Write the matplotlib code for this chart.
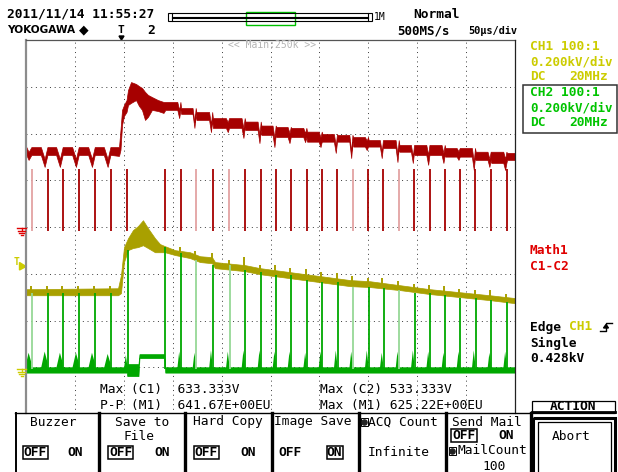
import numpy as np
import matplotlib
matplotlib.use("Agg")
import matplotlib.pyplot as plt
from matplotlib.patches import Rectangle, Polygon, Circle

plt.rcParams['lines.scale_dashes'] = False
MONO = 'DejaVu Sans Mono'

# ---- values: time in us (50 us/div), voltage in V (0.2 kV/div)
pulse_t = [5.8, 22.2, 37.8, 54.2, 70.6, 86.6, 103.6, 142.1, 158.2, 173.8,
           190.7, 207.9, 223.9, 240.3, 255.6, 271.0, 287.0, 302.7, 318.3, 334.1,
           350.0, 365.3, 381.4, 397.1, 412.8, 428.4, 443.8, 459.4, 475.4, 491.5]
pale_pulses = [0, 9, 11, 19, 22]

# CH1 (yellow) band, plus the small overshoot seen at each pulse
ch1_t = [0, 94.1, 97.1, 100.2, 104.3, 109.4, 114.5, 119.6, 124.7, 131.9, 137.0, 142.1,
         152.4, 167.7, 177.9, 190.2, 193.3, 223.9, 239.3, 269.9, 300.6, 331.3, 351.7,
         382.4, 413.1, 443.8, 474.4, 500]
ch1_top = [342, 346, 402, 522, 560, 595, 612, 637, 603, 560, 535, 526, 509, 500, 483,
           479, 458, 445, 432, 415, 398, 381, 376, 359, 342, 329, 316, 304]
ch1_bot = [316, 316, 325, 458, 509, 518, 522, 530, 518, 500, 500, 500, 488, 475, 458,
           453, 432, 419, 406, 389, 372, 355, 351, 338, 321, 308, 295, 282]
ch1_spike = [12, 12, 12, 12, 12, 12, 0, 0, 15, 15, 21, 17, 34, 13, 21, 17, 21, 17,
             21, 17, 13, 21, 17, 13, 17, 21, 13, 17, 21, 13]

# CH2 (green): floor band, ringing bump before each pulse, pulse height
ch2_floor_t = [0, 103.0, 103.6, 115.0, 116.0, 141.4, 142.4, 500]
ch2_floor_top = [8, 8, 22, 22, 64, 64, 8, 8]
ch2_floor_bot = [-15, -15, -30, -30, 47, 47, -15, -15]
ch2_ring = [70, 75, 70, 70, 70, 65, 60, 0, 75, 70, 80, 75, 80, 80, 75, 75, 70, 75,
            80, 75, 80, 70, 75, 80, 75, 70, 75, 80, 70, 75]
ch2_high = [325, 325, 325, 325, 325, 325, 509, 522, 496, 466, 445, 445, 423, 415, 402,
            402, 381, 372, 372, 351, 351, 346, 338, 325, 325, 316, 304, 304, 295, 287]

# Math1 = C1-C2 (red): band per segment between pulses, droop before each pulse
m1_seg_top = [346, 346, 346, 346, 346, 346, None, None, 539, 513, 496, 470, 470, 455,
              438, 432, 428, 412, 402, 398, 389, 376, 376, 355, 355, 355, 342, 342,
              326, 326, 321]
m1_seg_bot = [312, 312, 312, 312, 312, 312, None, None, 505, 488, 462, 428, 428, 419,
              398, 389, 389, 369, 369, 369, 348, 348, 342, 326, 312, 312, 305, 305,
              291, 278, 291]
m1_droop = [291, 261, 261, 261, 261, 261, None, None, 470, 428, 410, 410, 385, 363,
            346, 363, 367, 346, 321, 299, 333, 299, 282, 278, 270, 278, 291, 248, 261, 248]
m1_step_t = [87.4, 95.1, 96.6, 98.2, 100.2, 102.8, 104.3, 107.4, 112.5, 115.5, 118.6,
             121.7, 124.7, 128.8, 135.0, 140.6]
m1_step_top = [346, 346, 419, 505, 526, 547, 590, 624, 616, 607, 599, 582, 569, 560, 547, 539]
m1_step_bot = [312, 308, 334, 441, 479, 496, 526, 535, 547, 522, 505, 462, 475, 505, 500, 492]
m1_dip_low = -12

CH_OFF = 0.96    # CH1/CH2 ground, divisions from bottom
M1_OFF = 3.98    # Math1 ground
VDIV = 200.0

RED, RED_PALE = '#A60000', '#E3A3A3'
YEL = '#A9A000'
GRN, GRN_PALE = '#00A800', '#96D896'
TXT_Y, TXT_G, TXT_R = '#CCCC00', '#00C400', '#E00000'


def ch(v):
    return CH_OFF + np.asarray(v, dtype=float) / VDIV


def m1(v):
    return M1_OFF + np.asarray(v, dtype=float) / VDIV


fig = plt.figure(figsize=(6.18, 4.72), dpi=100)
ax = fig.add_axes([26 / 618, 58 / 472, 489 / 618, 374 / 472])
ax.set_xlim(0, 500)
ax.set_ylim(0, 8)
ax.axis('off')
ax.set_zorder(1)

bg = fig.add_axes([0, 0, 1, 1])
bg.set_xlim(0, 618)
bg.set_ylim(472, 0)
bg.axis('off')
bg.patch.set_alpha(0)
bg.set_zorder(2)

# dotted graticule
dots = (0, (0.72, 2.66))
for k in range(1, 10):
    ax.axvline(k * 50, color='#444444', lw=0.72, ls=dots, zorder=1)
for k in range(1, 8):
    ax.axhline(k, color='#444444', lw=0.72, ls=dots, zorder=1)

# ---- Math1 trace
edges = [0.0] + pulse_t + [500.0]
mt, mhi, mlo = list(m1_step_t), list(m1_step_top), list(m1_step_bot)
for i in range(len(edges) - 1):
    if m1_seg_top[i] is None:
        continue
    a, b = edges[i], edges[i + 1]
    top, bot = m1_seg_top[i], m1_seg_bot[i]
    w = 7.0 if b < 100 else 3.5
    mt += [a + 0.4, b - w]
    mhi += [top, top]
    mlo += [bot, bot]
    if i < len(pulse_t):
        d = m1_droop[i]
        mt += [b - 0.45 * w, b - 0.3]
        mhi += [min(top, d + (top - bot)), top]
        mlo += [d, bot]
    else:
        mt.append(b)
        mhi.append(top)
        mlo.append(bot)
order = np.argsort(mt)
mt, mhi, mlo = np.array(mt)[order], np.array(mhi)[order], np.array(mlo)[order]

for i, p in enumerate(pulse_t):
    c = RED_PALE if i in pale_pulses else RED
    ax.vlines(p, m1(m1_dip_low), m1(250), colors=c, lw=1.3, zorder=2)
ax.fill_between(mt, m1(mlo), m1(mhi), color=RED, lw=0.5, zorder=3)

# ---- CH1 trace
ax.fill_between(ch1_t, ch(ch1_bot), ch(ch1_top), color=YEL, lw=0.5, zorder=3)
top_at_pulse = np.interp(pulse_t, ch1_t, ch1_top)
for i, p in enumerate(pulse_t):
    if ch1_spike[i] > 0:
        ax.vlines(p - 0.8, ch(top_at_pulse[i] - 5), ch(top_at_pulse[i] + ch1_spike[i]),
                  colors=YEL, lw=1.4, zorder=3)

# ---- CH2 trace
ax.fill_between(ch2_floor_t, ch(ch2_floor_bot), ch(ch2_floor_top), color=GRN, lw=0.5, zorder=4)
for i, p in enumerate(pulse_t):
    h = ch2_ring[i]
    if h > 0:
        w = 7.0 if p < 100 else 3.5
        ax.add_patch(Polygon([(p - w, ch(0)), (p - 0.45 * w, ch(h)), (p - 0.3, ch(h * 0.4)),
                              (p - 0.3, ch(0))], closed=True, color=GRN, lw=0, zorder=4))
    c = GRN_PALE if i in pale_pulses else GRN
    ax.vlines(p + 0.4, ch(0), ch(ch2_high[i]), colors=c, lw=1.3, zorder=4)

# ---- screen frame
bg.plot([26, 26], [40, 413], color='#8c8c8c', lw=1.6)
bg.plot([26, 515], [40, 40], color='#555555', lw=0.9)
bg.plot([515, 515], [40, 413], color='#222222', lw=0.9)


def txt(x, y, s, color='black', size=9.3, weight='normal', ha='left', family=MONO):
    bg.text(x, y, s, color=color, fontsize=size, fontweight=weight, ha=ha,
            va='center', family=family)


# header
txt(7, 14, '2011/11/14 11:55:27', weight='bold')
txt(7, 30, 'YOKOGAWA', weight='bold', size=7.6, family='DejaVu Sans')
txt(79, 30, '\u25c6', size=9, family='DejaVu Sans')
txt(117, 30, 'T', weight='bold', size=8)
bg.add_patch(Polygon([(119, 36), (124, 36), (121.5, 40)], closed=True, color='black'))
txt(147, 30, '2', weight='bold')
bg.add_patch(Rectangle((168, 13), 4, 8, fill=False, ec='black', lw=0.8))
bg.add_patch(Rectangle((368, 13), 4, 8, fill=False, ec='black', lw=0.8))
for yy in (13.3, 16.5, 18.3, 20.7):
    bg.plot([172, 368], [yy, yy], color='black', lw=0.8)
bg.add_patch(Rectangle((245.5, 11.5), 49, 13.5, fill=False, ec='#00C000', lw=1.0))
txt(374, 17, '1M', size=7)
txt(413, 15, 'Normal', weight='bold')
txt(397, 31, '500MS/s', weight='bold', size=9)
txt(468, 31, '50\u00b5s/div', weight='bold', size=7.4)
txt(228, 45, '<< Main:250k >>', color='#b4b4b4', size=7)

# channel panel
txt(530, 46, 'CH1 100:1', color=TXT_Y, weight='bold')
txt(530, 62, '0.200kV/div', color=TXT_Y, weight='bold', size=9)
txt(530, 77, 'DC', color=TXT_Y, weight='bold')
txt(569, 77, '20MHz', color=TXT_Y, weight='bold')
bg.add_patch(Rectangle((522.5, 84.5), 94, 48, fill=False, ec='#333333', lw=1.1))
txt(530, 93, 'CH2 100:1', color=TXT_G, weight='bold')
txt(530, 108, '0.200kV/div', color=TXT_G, weight='bold', size=9)
txt(530, 123, 'DC', color=TXT_G, weight='bold')
txt(569, 123, '20MHz', color=TXT_G, weight='bold')
txt(530, 250, 'Math1', color=TXT_R, weight='bold')
txt(530, 266, 'C1-C2', color=TXT_R, weight='bold')
txt(530, 327, 'Edge', weight='bold')
txt(569, 327, 'CH1', color=TXT_Y, weight='bold')
bg.plot([600, 606, 606, 612], [331, 331, 323, 323], color='black', lw=1.0)
bg.add_patch(Polygon([(603.5, 328), (608.5, 328), (606, 324.5)], closed=True, color='black'))
txt(530, 343, 'Single', weight='bold')
txt(530, 358, '0.428kV', weight='bold')


# ground and trigger markers at the left edge
def ground(y0, color):
    bg.plot([17, 26], [y0, y0], color=color, lw=1.0)
    bg.plot([21.5, 21.5], [y0, y0 + 2.5], color=color, lw=1.0)
    bg.plot([17.5, 25], [y0 + 2.8, y0 + 2.8], color=color, lw=1.0)
    bg.plot([19, 24], [y0 + 4.8, y0 + 4.8], color=color, lw=1.0)
    bg.plot([20.5, 22.5], [y0 + 6.8, y0 + 6.8], color=color, lw=1.0)


ground(228, TXT_R)
ground(369, TXT_Y)
txt(14, 262, 'T', color=TXT_Y, weight='bold', size=7)
bg.add_patch(Polygon([(19.5, 262.5), (26, 266.5), (19.5, 270)], closed=True, color=TXT_Y))

# measurements
txt(100, 390, 'Max (C1)  633.333V')
txt(100, 405, 'P-P (M1)  641.67E+00EU')
txt(320, 390, 'Max (C2) 533.333V')
txt(320, 405, 'Max (M1) 625.22E+00EU')

# soft-key menu
bg.add_patch(Rectangle((15, 413), 600, 60, color='white', zorder=0))
bg.plot([15, 531], [413, 413], color='black', lw=1.0)
bg.plot([15.5, 15.5], [413, 472], color='black', lw=1.4)
for xs in (98.5, 185, 271.5, 359, 445.5, 530.5):
    bg.plot([xs, xs], [413, 472], color='black', lw=2.4)

txt(53.5, 422, 'Buzzer', ha='center')
txt(142, 422, 'Save to', ha='center')
txt(139, 437, 'File', ha='center')
txt(228, 422, 'Hard Copy', ha='center')
txt(274, 422, 'Image Save')
txt(368, 422, 'ACQ Count')
txt(452, 422, 'Send Mail')
txt(458, 451, 'MailCount')
txt(494, 466, '100', ha='center')
txt(399, 452, 'Infinite', ha='center')
for cx in (364.5, 452.5):
    cy = 422 if cx < 400 else 451
    bg.add_patch(Rectangle((cx - 3.5, cy - 4), 7, 8, fill=False, ec='black', lw=0.7))
    bg.add_patch(Circle((cx, cy + 0.5), 2.6, color='#222222'))

for x0, y0, w in ((22.5, 446, 25), (108, 446, 25), (193.5, 446, 25), (451, 428.5, 26)):
    bg.add_patch(Rectangle((x0, y0), w, 13, fill=False, ec='black', lw=1.1))
    txt(x0 + w / 2, y0 + 6.8, 'OFF', weight='bold', ha='center')
bg.add_patch(Rectangle((326.5, 446), 16, 13, fill=False, ec='black', lw=1.1))
txt(334.5, 452.8, 'ON', weight='bold', ha='center')
for cx, cy in ((75, 452.8), (162.5, 452.8), (248, 452.8), (506, 435.3)):
    txt(cx, cy, 'ON', weight='bold', ha='center')
txt(290, 452.8, 'OFF', weight='bold', ha='center')

# action keys
bg.add_patch(Rectangle((531.5, 400.5), 83.5, 12, fill=False, ec='black', lw=0.9))
bg.plot([531.5, 615], [412, 412], color='black', lw=2.0)
txt(573, 406, 'ACTION', weight='bold', ha='center')
bg.add_patch(Rectangle((533, 417.5), 82, 60, fill=False, ec='black', lw=2.2))
bg.add_patch(Rectangle((537.5, 421.5), 73, 60, fill=False, ec='black', lw=0.9))
txt(571, 437, 'Abort', ha='center')

fig.savefig('out.png', dpi=100)
